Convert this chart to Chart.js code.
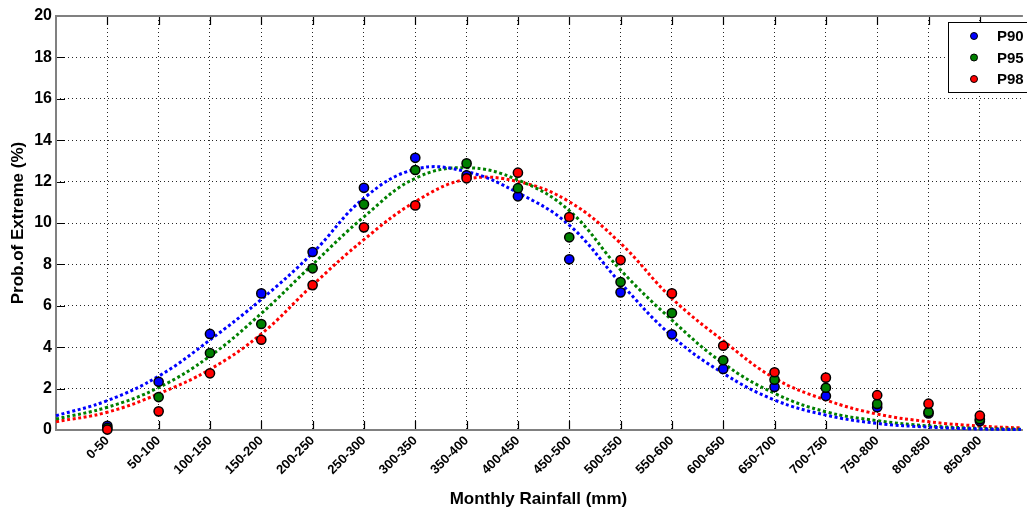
<!DOCTYPE html>
<html lang="en">
<head>
  <meta charset="UTF-8" />
  <title>Prob. of Extreme vs Monthly Rainfall</title>
  <script src="https://cdn.jsdelivr.net/npm/chart.js"></script>
  <style>
    html, body { margin: 0; padding: 0; background: #fff; }
    #wrap { width: 1027px; height: 512px; }
  </style>
</head>
<body>
  <div id="wrap"><canvas id="chart" width="1027" height="512"></canvas></div>

  <script>
    // rainfall classes (x positions 1..18)
    const rangeLabels = ['0-50', '50-100', '100-150', '150-200', '200-250', '250-300', '300-350', '350-400', '400-450',
      '450-500', '500-550', '550-600', '600-650', '650-700', '700-750', '750-800', '800-850', '850-900'];

    // observed probabilities (%)
    const p90 = [0.2, 2.33, 4.64, 6.6, 8.6, 11.7, 13.15, 12.3, 11.29, 8.25, 6.65, 4.62, 2.95, 2.08, 1.64, 1.1, 0.8, 0.43];
    const p95 = [0.1, 1.59, 3.72, 5.12, 7.81, 10.9, 12.56, 12.88, 11.68, 9.31, 7.15, 5.65, 3.37, 2.43, 2.04, 1.26, 0.87, 0.52];
    const p98 = [0.02, 0.9, 2.74, 4.36, 7.0, 9.79, 10.85, 12.16, 12.43, 10.29, 8.21, 6.6, 4.07, 2.79, 2.53, 1.68, 1.27, 0.69];

    // fitted curves
    const fitX = [0, 1, 2, 3, 4, 5, 6, 7, 8, 9, 10, 11, 12, 13, 14, 15, 16, 17, 18, 18.8];
    const fit90 = [0.69, 1.42, 2.6, 4.35, 6.31, 8.55, 11.2, 12.6, 12.48, 11.46, 9.9, 7.1, 4.54, 2.74, 1.45, 0.72, 0.32, 0.14, 0.05, 0.02];
    const fit95 = [0.53, 1.1, 2.05, 3.57, 5.63, 8.0, 10.3, 12.16, 12.67, 12.08, 10.6, 7.73, 5.31, 3.22, 1.77, 0.88, 0.45, 0.2, 0.08, 0.04];
    const fit98 = [0.4, 0.86, 1.75, 2.93, 4.64, 7.0, 9.2, 11.03, 12.12, 12.0, 11.03, 9.02, 6.36, 4.31, 2.5, 1.45, 0.77, 0.4, 0.19, 0.1];

    const yTicks = [0, 2, 4, 6, 8, 10, 12, 14, 16, 18, 20];

    const FONT = "'Liberation Sans', Arial, sans-serif";
    const series = [
      { name: 'P90', color: '#0000ff', obs: p90, fit: fit90 },
      { name: 'P95', color: '#008000', obs: p95, fit: fit95 },
      { name: 'P98', color: '#ff0000', obs: p98, fit: fit98 }
    ];

    const datasets = [];
    series.forEach((s, i) => {
      datasets.push({
        label: s.name + ' fit',
        data: s.fit.map((v, k) => ({ x: fitX[k], y: v })),
        showLine: true,
        borderColor: s.color,
        borderWidth: 3,
        borderDash: [3, 2.6],
        borderCapStyle: 'butt',
        pointRadius: 0,
        tension: 0.4,
        clip: false,
        order: 10 + i
      });
    });
    series.forEach((s, i) => {
      datasets.push({
        label: s.name,
        data: s.obs.map((v, k) => ({ x: k + 1, y: v })),
        showLine: false,
        backgroundColor: s.color,
        borderColor: '#000',
        borderWidth: 1.5,
        pointRadius: 4.6,
        clip: false,
        order: 5 - i
      });
    });

    // axes frame with inward ticks (matlab style) + boxed legend
    const framePlugin = {
      id: 'frame',
      beforeDatasetsDraw(chart) {
        const { ctx, chartArea: a, scales } = chart;
        ctx.save();
        ctx.strokeStyle = '#000';
        ctx.lineWidth = 1.2;
        ctx.beginPath();
        scales.x.ticks.forEach(t => {
          const px = Math.round(scales.x.getPixelForValue(t.value)) + 0.5;
          ctx.moveTo(px, a.bottom); ctx.lineTo(px, a.bottom - 9);
          ctx.moveTo(px, a.top); ctx.lineTo(px, a.top + 9);
        });
        yTicks.forEach(v => {
          const py = Math.round(scales.y.getPixelForValue(v)) + 0.5;
          ctx.moveTo(a.left, py); ctx.lineTo(a.left + 9, py);
        });
        ctx.stroke();
        ctx.strokeStyle = '#808080';
        ctx.lineWidth = 2;
        ctx.beginPath();
        ctx.moveTo(a.right + 2, a.top);
        ctx.lineTo(a.left, a.top);
        ctx.lineTo(a.left, a.bottom);
        ctx.lineTo(a.right + 2, a.bottom);
        ctx.stroke();
        ctx.restore();
      },
      afterDraw(chart) {
        const { ctx } = chart;
        ctx.save();
        ctx.fillStyle = '#fff';
        ctx.strokeStyle = '#000';
        ctx.lineWidth = 1;
        ctx.fillRect(948, 22, 90, 70);
        ctx.strokeRect(948.5, 22.5, 90, 70);
        ctx.font = 'bold 15px ' + FONT;
        ctx.textBaseline = 'middle';
        series.forEach((s, i) => {
          const y = 36 + i * 21.5;
          ctx.beginPath();
          ctx.arc(974, y, 3.5, 0, Math.PI * 2);
          ctx.fillStyle = s.color;
          ctx.fill();
          ctx.lineWidth = 1;
          ctx.strokeStyle = '#000';
          ctx.stroke();
          ctx.fillStyle = '#000';
          ctx.fillText(s.name, 997, y + 1);
        });
        ctx.restore();
      }
    };

    new Chart(document.getElementById('chart'), {
      type: 'scatter',
      data: { datasets },
      options: {
        responsive: false,
        animation: false,
        events: [],
        layout: { padding: { top: 16, right: 0, left: 0, bottom: 0 } },
        plugins: { legend: { display: false }, tooltip: { enabled: false } },
        scales: {
          x: {
            type: 'linear',
            min: 0,
            max: 18.8,
            afterBuildTicks: (scale) => { scale.ticks = rangeLabels.map((_, i) => ({ value: i + 1 })); },
            afterFit: (scale) => { scale.height = 82; scale.paddingLeft = 0; scale.paddingRight = 0; },
            ticks: {
              autoSkip: false,
              minRotation: 45,
              maxRotation: 45,
              padding: 3,
              color: '#000',
              font: { family: FONT, size: 13, weight: 'bold' },
              callback: (v) => rangeLabels[v - 1] || ''
            },
            grid: { color: 'rgba(0,0,0,0.85)', lineWidth: 1, drawTicks: false },
            border: { display: false, dash: [1, 3] },
            title: {
              display: true,
              text: 'Monthly Rainfall (mm)',
              color: '#000',
              font: { family: FONT, size: 17, weight: 'bold' },
              padding: { top: 0, bottom: 2 }
            }
          },
          y: {
            min: 0,
            max: 20,
            afterBuildTicks: (scale) => { scale.ticks = yTicks.map(v => ({ value: v })); },
            afterFit: (scale) => { scale.width = 56; },
            ticks: {
              padding: 4,
              color: '#000',
              font: { family: FONT, size: 16, weight: 'bold' }
            },
            grid: { color: 'rgba(0,0,0,0.85)', lineWidth: 1, drawTicks: false },
            border: { display: false, dash: [1, 3] },
            title: {
              display: true,
              text: 'Prob.of Extreme (%)',
              color: '#000',
              font: { family: FONT, size: 17, weight: 'bold' },
              padding: { top: 8, bottom: 0 }
            }
          }
        }
      },
      plugins: [framePlugin]
    });
  </script>
</body>
</html>
